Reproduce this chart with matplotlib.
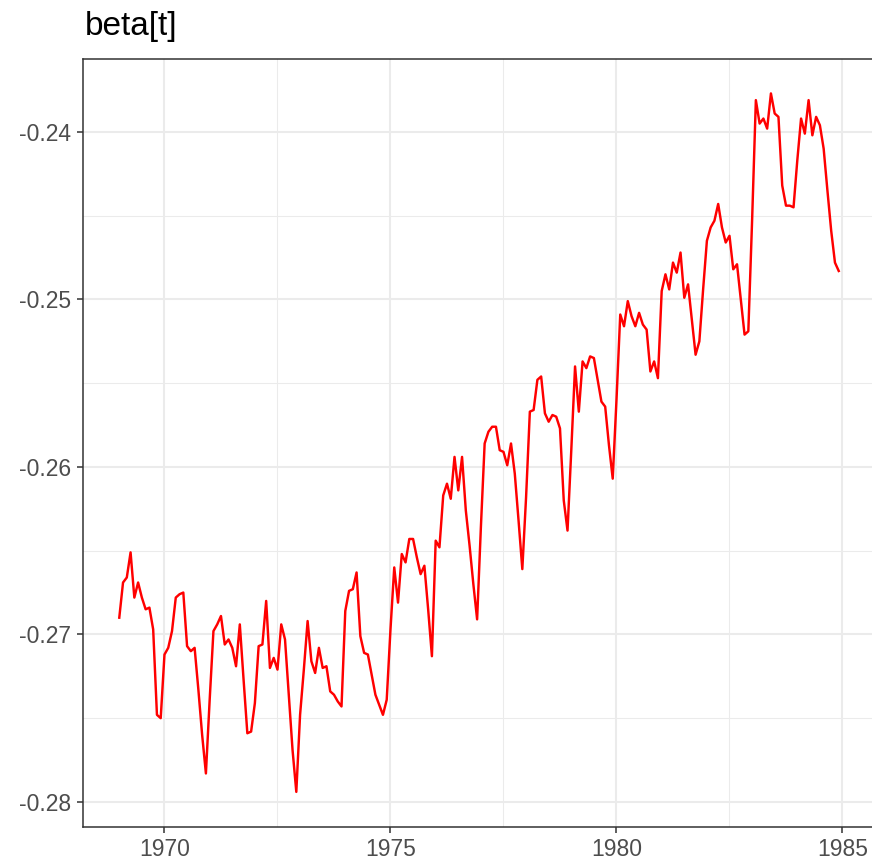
import numpy as np
import matplotlib
matplotlib.use("Agg")
import matplotlib.pyplot as plt
from matplotlib.ticker import FixedLocator

# Monthly series, January 1969 onwards
start_year = 1969
months_per_year = 12

beta_t = [
    -0.2690, -0.2669, -0.2666, -0.2651, -0.2678, -0.2669, -0.2678, -0.2685, -0.2684, -0.2697,
    -0.2748, -0.2750, -0.2712, -0.2708, -0.2698, -0.2678, -0.2676, -0.2675, -0.2707, -0.2710,
    -0.2708, -0.2733, -0.2760, -0.2783, -0.2739, -0.2698, -0.2694, -0.2689, -0.2706, -0.2703,
    -0.2708, -0.2719, -0.2694, -0.2727, -0.2759, -0.2758, -0.2741, -0.2707, -0.2706, -0.2680,
    -0.2720, -0.2714, -0.2721, -0.2694, -0.2703, -0.2736, -0.2769, -0.2794, -0.2748, -0.2721,
    -0.2692, -0.2716, -0.2723, -0.2708, -0.2720, -0.2719, -0.2734, -0.2736, -0.2740, -0.2743,
    -0.2686, -0.2674, -0.2673, -0.2663, -0.2701, -0.2711, -0.2712, -0.2724, -0.2736, -0.2742,
    -0.2748, -0.2739, -0.2697, -0.2660, -0.2681, -0.2652, -0.2657, -0.2643, -0.2643, -0.2654,
    -0.2664, -0.2659, -0.2685, -0.2713, -0.2644, -0.2648, -0.2617, -0.2610, -0.2619, -0.2594,
    -0.2614, -0.2594, -0.2626, -0.2647, -0.2670, -0.2691, -0.2636, -0.2586, -0.2579, -0.2576,
    -0.2576, -0.2590, -0.2591, -0.2599, -0.2586, -0.2604, -0.2632, -0.2661, -0.2618, -0.2567,
    -0.2566, -0.2548, -0.2546, -0.2568, -0.2573, -0.2569, -0.2570, -0.2577, -0.2620, -0.2638,
    -0.2590, -0.2540, -0.2567, -0.2537, -0.2541, -0.2534, -0.2535, -0.2548, -0.2561, -0.2564,
    -0.2587, -0.2607, -0.2560, -0.2509, -0.2516, -0.2501, -0.2510, -0.2516, -0.2508, -0.2515,
    -0.2518, -0.2543, -0.2537, -0.2547, -0.2495, -0.2485, -0.2494, -0.2478, -0.2484, -0.2472,
    -0.2499, -0.2491, -0.2512, -0.2533, -0.2525, -0.2494, -0.2465, -0.2457, -0.2453, -0.2443,
    -0.2457, -0.2466, -0.2462, -0.2482, -0.2479, -0.2500, -0.2521, -0.2519, -0.2453, -0.2381,
    -0.2395, -0.2392, -0.2398, -0.2377, -0.2389, -0.2391, -0.2432, -0.2444, -0.2444, -0.2445,
    -0.2417, -0.2392, -0.2401, -0.2381, -0.2402, -0.2391, -0.2396, -0.2410, -0.2435, -0.2459,
    -0.2478, -0.2483,
]

x_breaks = [1970, 1975, 1980, 1985]
x_minor = [1972.5, 1977.5, 1982.5]
y_breaks = [-0.28, -0.27, -0.26, -0.25, -0.24]
y_minor = [-0.275, -0.265, -0.255, -0.245]
y_labels = ["-0.28", "-0.27", "-0.26", "-0.25", "-0.24"]
x_labels = ["1970", "1975", "1980", "1985"]

time = start_year + np.arange(len(beta_t)) / months_per_year

plt.rcParams["font.family"] = ["Liberation Sans", "DejaVu Sans"]

W, H = 872, 861
fig = plt.figure(figsize=(W / 100, H / 100), dpi=100)
left, right, top, bottom = 83.3, 874.7, 58.5, 826.8
ax = fig.add_axes([left / W, 1 - bottom / H, (right - left) / W, (bottom - top) / H])

ax.plot(time, beta_t, color="#FF0000", linewidth=1.75, zorder=3)
ax.margins(x=0.05, y=0.05)

ax.xaxis.set_major_locator(FixedLocator(x_breaks))
ax.xaxis.set_minor_locator(FixedLocator(x_minor))
ax.yaxis.set_major_locator(FixedLocator(y_breaks))
ax.yaxis.set_minor_locator(FixedLocator(y_minor))
ax.set_xticklabels(x_labels)
ax.set_yticklabels(y_labels)

ax.grid(which="major", color="#EBEBEB", linewidth=1.5)
ax.grid(which="minor", color="#EBEBEB", linewidth=0.75)
ax.set_axisbelow(True)

for s in ax.spines.values():
    s.set_color("#333333")
    s.set_linewidth(1.1)

ax.tick_params(which="major", length=4.2, width=1.1, color="#333333",
               labelcolor="#4D4D4D", labelsize=16.5)
ax.tick_params(axis="x", which="major", pad=3.8)
ax.tick_params(axis="y", which="major", pad=4.5)
ax.tick_params(which="minor", length=0)

# Title, left-aligned just inside the panel's left edge
fig.text(85 / W, 1 - 34.5 / H, "beta[t]", fontsize=24, color="black",
         ha="left", va="baseline")

fig.savefig("out.png", dpi=100)
